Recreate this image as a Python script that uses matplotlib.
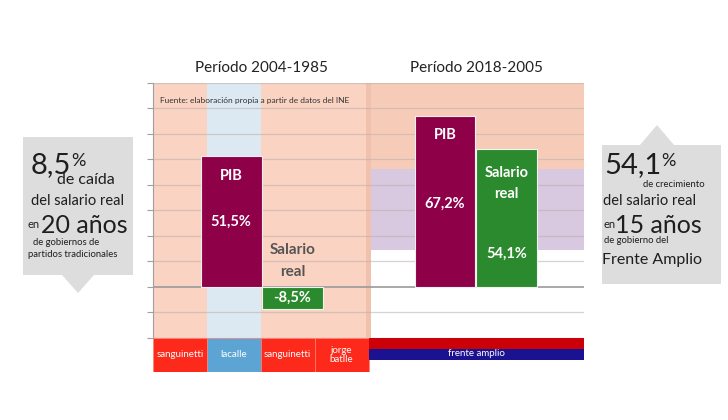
import matplotlib.pyplot as plt
from matplotlib.patches import Rectangle, Polygon
from matplotlib.text import Annotation

plt.rcParams['font.family'] = ['Lato', 'DejaVu Sans']

# data
periods = ['Período 2004-1985', 'Período 2018-2005']
pib = [51.5, 67.2]
salario = [-8.5, 54.1]
pib_labels = ['51,5%', '67,2%']
sal_labels = ['-8,5%', '54,1%']
gobiernos = ['sanguinetti', 'lacalle', 'sanguinetti', 'jorge\nbatlle']
gob_colors = ['#fd2a1c', '#5ba4d4', '#fd2a1c', '#fd2a1c']
fuente = 'Fuente: elaboración propia a partir de datos del INE'

W, H = 728, 420
fig = plt.figure(figsize=(W / 100, H / 100), dpi=100)
fig.patch.set_facecolor('white')


def fx(px):
    return px / W


def fy(py):
    return 1 - py / H


ax = fig.add_axes([fx(153), fy(372), fx(584) - fx(153), (372 - 83) / H])
ax.set_xlim(0, 8)
ax.set_ylim(-33.4, 80)
ax.set_facecolor('none')

# backgrounds
salmon = '#fad3c2'
ax.add_patch(Rectangle((0, -20), 4, 100, color=salmon, zorder=0, lw=0))
ax.add_patch(Rectangle((1, -20), 1, 100, color='#dce8f2', zorder=0.1, lw=0))
ax.add_patch(Rectangle((3.95, -20), 0.1, 100, color='#f0c2ad', zorder=0.2, lw=0))
ax.add_patch(Rectangle((4.05, 46.4), 3.95, 33.6, color='#f6ccb9', zorder=0, lw=0))
ax.add_patch(Rectangle((4.05, 14.5), 3.95, 31.9, color='#d8c8e0', zorder=0, lw=0))

# gridlines
for v in range(-20, 90, 10):
    if v == 0:
        ax.axhline(v, color='#9a9a9a', lw=1.2, zorder=1)
    else:
        ax.axhline(v, color='#b8b0ad', lw=0.9, alpha=0.55, zorder=1)

# bars
w = 1.13
pib_x = [1.45, 5.42]
sal_x = [p + 1.14 for p in pib_x]
ax.bar(pib_x, pib, width=w, color='#8e0048', edgecolor='#f4eef0', lw=0.8, zorder=3)
ax.bar(sal_x, salario, width=w, color='#2c8a2e', edgecolor='#eef4ee', lw=0.8, zorder=3)

txt = dict(color='white', fontweight='bold', ha='center', va='center', zorder=4)
ax.text(pib_x[0], 43.5, 'PIB', fontsize=10.5, **txt)
ax.text(pib_x[0], 25.5, pib_labels[0], fontsize=10.5, **txt)
ax.text(pib_x[1], 59.5, 'PIB', fontsize=10.5, **txt)
ax.text(pib_x[1], 32.5, pib_labels[1], fontsize=10.5, **txt)
ax.text(sal_x[1], 44.5, 'Salario', fontsize=10.5, **txt)
ax.text(sal_x[1], 36.5, 'real', fontsize=10.5, **txt)
ax.text(sal_x[1], 12.8, sal_labels[1], fontsize=10.5, **txt)
ax.text(sal_x[0], -4.3, sal_labels[0], fontsize=10.5, **txt)
ax.text(sal_x[0], 14.5, 'Salario', color='#555555', fontsize=11,
        fontweight='bold', ha='center', va='center', zorder=4)
ax.text(sal_x[0], 6.0, 'real', color='#555555', fontsize=11,
        fontweight='bold', ha='center', va='center', zorder=4)

ax.text(0.13, 73, fuente, fontsize=6, color='#333333', va='center', zorder=4)

# government bands
for i, (g, c) in enumerate(zip(gobiernos, gob_colors)):
    ax.add_patch(Rectangle((i, -33.4), 1, 13.4, facecolor=c,
                           edgecolor='#ff8070', lw=0.5, zorder=2))
    ax.text(i + 0.5, -26.7, g, color='white', fontsize=7, ha='center',
            va='center', linespacing=1.1, zorder=4)
ax.add_patch(Rectangle((4.0, -24.4), 4.0, 4.4, color='#cc0008', lw=0, zorder=2))
ax.add_patch(Rectangle((4.0, -28.7), 4.0, 4.3, color='#1a1290', lw=0, zorder=2))
ax.text(6.0, -26.0, 'frente amplio', color='white', fontsize=7, ha='center',
        va='center', zorder=4)

# axes styling
for s in ['top', 'right', 'bottom']:
    ax.spines[s].set_visible(False)
ax.spines['left'].set_color('#a0a0a0')
ax.spines['left'].set_bounds(-20, 80)
ax.set_yticks(range(-20, 90, 10))
ax.set_yticklabels([])
ax.set_xticks([])
ax.tick_params(axis='y', length=4, color='#a0a0a0')

# period titles
fig.text(fx(261), fy(68), periods[0], fontsize=11, ha='center', va='center', color='#222222')
fig.text(fx(476), fy(68), periods[1], fontsize=11, ha='center', va='center', color='#222222')

# callout boxes
grey = '#dddddd'
left_box = [(23, 137), (133, 137), (133, 275), (94, 275), (78, 293), (62, 275), (23, 275)]
right_box = [(602, 145), (640, 145), (657, 125), (674, 145), (721, 145), (721, 284), (602, 284)]
for pts in (left_box, right_box):
    fig.patches.append(Polygon([(fx(x), fy(y)) for x, y in pts], closed=True,
                               transform=fig.transFigure, facecolor=grey,
                               edgecolor='none', zorder=0))

tc = '#1e1e1e'


def t(x, y, s, size):
    return fig.text(fx(x), fy(y), s, fontsize=size, color=tc, va='baseline', ha='left')


def sup(parent, s, size):
    # small superscript placed just after the big number
    ann = Annotation(s, xy=(1, 0.95), xycoords=parent, xytext=(0, 0),
                     textcoords='offset points', fontsize=size, color=tc,
                     ha='left', va='top', annotation_clip=False)
    fig.add_artist(ann)
    return ann


# left callout
n1 = t(31, 173, '8,5', 21)
sup(n1, '%', 13)
t(57, 184, 'de caída', 11.5)
t(31, 205, 'del salario real', 10.5)
t(28, 228, 'en', 8)
t(41, 233, '20 años', 18)
t(33, 245, 'de gobiernos de', 6.8)
t(28, 257, 'partidos tradicionales', 6.8)

# right callout
n2 = t(604, 173, '54,1', 21)
sup(n2, '%', 13)
t(643, 187, 'de crecimiento', 6.8)
t(603, 205, 'del salario real', 10.5)
t(603, 228, 'en', 8)
t(615, 233, '15 años', 18)
t(604, 243, 'de gobierno del', 6.8)
t(602, 264, 'Frente Amplio', 11.5)

fig.savefig('out.png', dpi=100)
